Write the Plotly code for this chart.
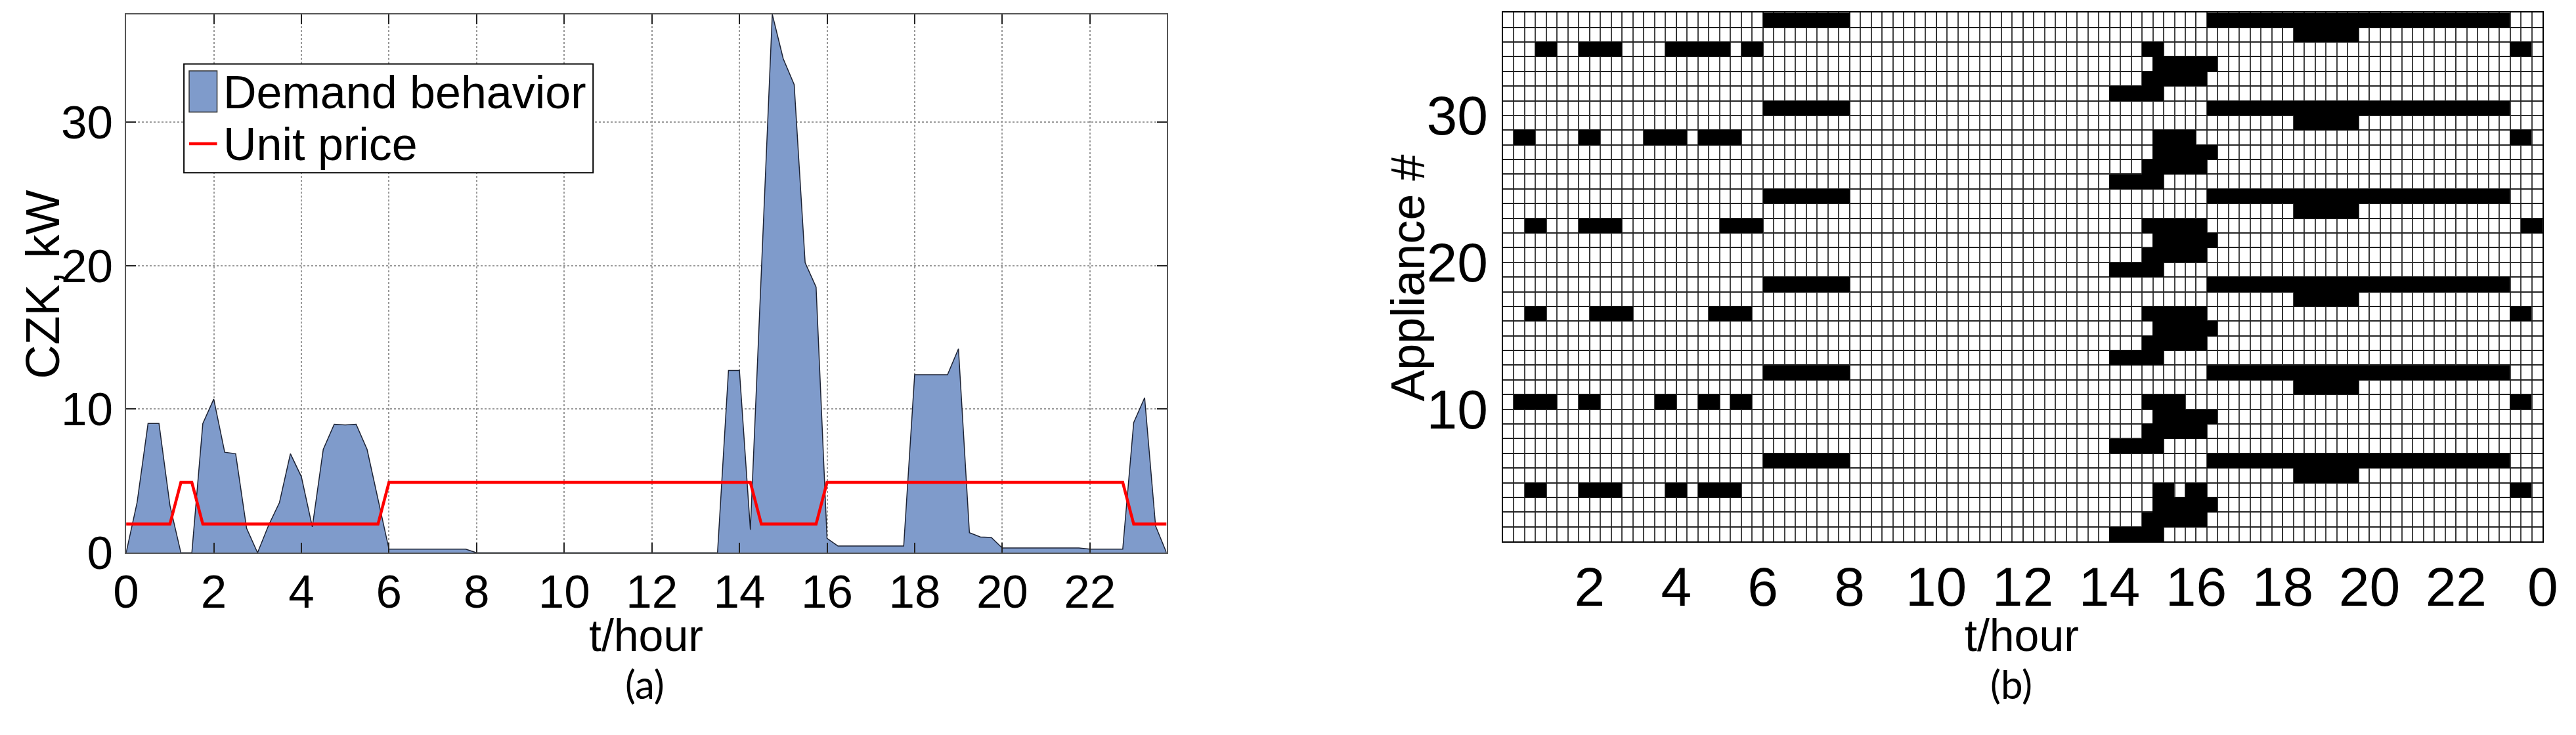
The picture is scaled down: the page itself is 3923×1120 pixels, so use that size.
import plotly.graph_objects as go

W, H = 3923, 1120

# (a) demand behaviour, one value every 15 minutes from 0:00 to 23:45 (kW)
demand_kw = [
    0, 3.5, 9.0, 9.0, 3.3, 0, 0, 9.0, 10.7, 7.0, 6.9, 1.7,
    0, 1.9, 3.5, 6.9, 5.3, 1.8, 7.2, 8.95, 8.9, 8.95, 7.2, 3.7,
    0.25, 0.25, 0.25, 0.25, 0.25, 0.25, 0.25, 0.25, 0, 0, 0, 0,
    0, 0, 0, 0, 0, 0, 0, 0, 0, 0, 0, 0,
    0, 0, 0, 0, 0, 0, 0, 12.7, 12.7, 1.6, 19.6, 37.5,
    34.4, 32.6, 20.2, 18.5, 1.0, 0.47, 0.47, 0.47, 0.47, 0.47, 0.47, 0.47,
    12.4, 12.4, 12.4, 12.4, 14.2, 1.4, 1.1, 1.07, 0.33, 0.33, 0.33, 0.33,
    0.33, 0.33, 0.33, 0.33, 0.25, 0.25, 0.25, 0.25, 9.06, 10.8, 1.86, 0,
]

# (a) unit price, breakpoints of the tariff line
price_t = [0, 1.0, 1.25, 1.5, 1.75, 5.75, 6.0, 14.25, 14.5, 15.75, 16.0, 22.75, 23.0, 23.75]
price_v = [2, 2, 4.9, 4.9, 2, 2, 4.9, 4.9, 2, 2, 4.9, 4.9, 2, 2]

# (b) appliance schedules: (start hour, end hour) of every "on" block
sched_a = [(14.0, 15.25)]                      # appliances 1, 7, 13, 19, 25, 31
sched_b = [(14.75, 16.25)]                     # appliances 2, 8, 14, 20, 26, 32
sched_c = [(15.0, 16.5)]                       # appliances 3, 9, 15, 21, 27, 33
sched_e = [(18.25, 19.75)]                     # appliances 5, 11, 17, 23, 29, 35
sched_f = [(6.0, 8.0), (16.25, 23.25)]         # appliances 6, 12, 18, 24, 30, 36
sched_d = {                                    # appliances 4, 10, 16, 22, 28, 34
    4: [(0.5, 1.0), (1.75, 2.75), (3.75, 4.25), (4.5, 5.5), (15.0, 15.5), (15.75, 16.25), (23.25, 23.75)],
    10: [(0.25, 1.25), (1.75, 2.25), (3.5, 4.0), (4.5, 5.0), (5.25, 5.75), (14.75, 15.75), (23.25, 23.75)],
    16: [(0.5, 1.0), (2.0, 3.0), (4.75, 5.75), (14.75, 16.25), (23.25, 23.75)],
    22: [(0.5, 1.0), (1.75, 2.75), (5.0, 6.0), (14.75, 16.25), (23.5, 24.0)],
    28: [(0.25, 0.75), (1.75, 2.25), (3.25, 4.25), (4.5, 5.5), (15.0, 16.0), (23.25, 23.75)],
    34: [(0.75, 1.25), (1.75, 2.75), (3.75, 5.25), (5.5, 6.0), (14.75, 15.25), (23.25, 23.75)],
}
n_appliances = 36
slot_h = 0.25

hour_ticks = [2, 4, 6, 8, 10, 12, 14, 16, 18, 20, 22, 24]
hour_labels = ["2", "4", "6", "8", "10", "12", "14", "16", "18", "20", "22", "0"]


def px(x):
    return x / W


def py(y):
    return 1 - y / H


def schedule_for(app):
    kind = (app - 1) % 6
    if kind == 3:
        return sched_d[app]
    return [sched_a, sched_b, sched_c, None, sched_e, sched_f][kind]


n_slots = int(24 / slot_h)
grid = []
for app in range(1, n_appliances + 1):
    row = [None] * n_slots
    for start, end in schedule_for(app):
        for s in range(int(start / slot_h), int(end / slot_h)):
            row[s] = 1
    grid.append(row)

FONT = "Arial, Liberation Sans, sans-serif"

fig = go.Figure()
fig.add_trace(go.Scatter(
    x0=0, dx=slot_h, y=demand_kw, mode="lines", fill="tozeroy",
    fillcolor="#7f9bcb", line=dict(color="#1c2233", width=1.5),
    showlegend=False, hoverinfo="skip",
))
fig.add_trace(go.Scatter(
    x=price_t, y=price_v, mode="lines",
    line=dict(color="#ff0000", width=4.5),
    showlegend=False, hoverinfo="skip",
))
fig.add_trace(go.Heatmap(
    z=grid, x0=slot_h / 2, dx=slot_h, y0=1.5, dy=1,
    xaxis="x2", yaxis="y2", zmin=0, zmax=1,
    colorscale=[[0, "#000000"], [1, "#000000"]], showscale=False,
    hoverinfo="skip",
))

axis_a = dict(
    showline=True, linecolor="#555555", linewidth=2, mirror="allticks",
    ticks="inside", ticklen=15, tickwidth=2, tickcolor="#222222",
    showgrid=True, gridcolor="#999999", gridwidth=1.5, griddash="dot",
    zeroline=False, tickfont=dict(family=FONT, size=71, color="black"),
)
grid_b = dict(
    showline=True, linecolor="black", linewidth=2, mirror=True,
    ticks="", showgrid=True, gridcolor="#333333", gridwidth=2, zeroline=False,
    tickfont=dict(family=FONT, size=84, color="black"),
)

fig.update_layout(
    width=W, height=H, margin=dict(l=0, r=0, t=0, b=0),
    paper_bgcolor="white", plot_bgcolor="white", showlegend=False,
    xaxis=dict(axis_a, domain=[px(174), px(1776)], range=[0, 23.75],
               tickmode="linear", tick0=0, dtick=2, anchor="y",
               ticklabelstandoff=-4),
    yaxis=dict(axis_a, domain=[py(873.5), py(22.5)], range=[0, 37.5],
               tickmode="linear", tick0=0, dtick=10, anchor="x",
               ticklabelstandoff=4),
    xaxis2=dict(grid_b, domain=[px(2294), px(3895)], range=[0, 24],
                tickmode="array", tickvals=hour_ticks, ticktext=hour_labels,
                anchor="y2", ticklabelstandoff=-5,
                minor=dict(tickmode="linear", tick0=0, dtick=slot_h, showgrid=True,
                           gridcolor="#444444", gridwidth=2)),
    yaxis2=dict(grid_b, domain=[py(855.6), py(20)], range=[1, n_appliances + 1],
                tickmode="array", tickvals=[10, 20, 30], anchor="x2",
                ticklabelstandoff=4,
                minor=dict(tickmode="linear", tick0=1, dtick=1, showgrid=True,
                           gridcolor="#222222", gridwidth=2)),
)

# legend box of panel (a)
fig.add_shape(type="rect", xref="paper", yref="paper",
              x0=px(263), x1=px(893), y0=py(273), y1=py(101),
              line=dict(color="black", width=2), fillcolor="white")
fig.add_shape(type="rect", xref="paper", yref="paper",
              x0=px(271), x1=px(314), y0=py(177), y1=py(112),
              line=dict(color="#333333", width=1.5), fillcolor="#7f9bcb")
fig.add_shape(type="line", xref="paper", yref="paper",
              x0=px(271), x1=px(314), y0=py(227), y1=py(227),
              line=dict(color="#ff0000", width=4.5))

texts = [
    ("Demand behavior", 322, 146, 0, "left", 70, FONT),
    ("Unit price", 322, 228, 0, "left", 70, FONT),
    ("CZK, kW", 45, 450, -90, "center", 72, FONT),
    ("t/hour", 975, 1004, 0, "center", 68, FONT),
    ("(a)", 973, 1081, 0, "center", 60, "Lato, Open Sans, sans-serif"),
    ("Appliance #", 2148, 439, -90, "center", 72, FONT),
    ("t/hour", 3093, 1004, 0, "center", 68, FONT),
    ("(b)", 3077, 1081, 0, "center", 60, "Lato, Open Sans, sans-serif"),
]
for text, x, y, angle, anchor, size, family in texts:
    fig.add_annotation(
        text=text, xref="paper", yref="paper", x=px(x), y=py(y),
        xanchor=anchor, yanchor="middle", textangle=angle, showarrow=False,
        font=dict(family=family, size=size, color="black"),
    )

fig.write_html("out.html", config={"displayModeBar": False},
               post_script="document.body.style.margin='0';")
